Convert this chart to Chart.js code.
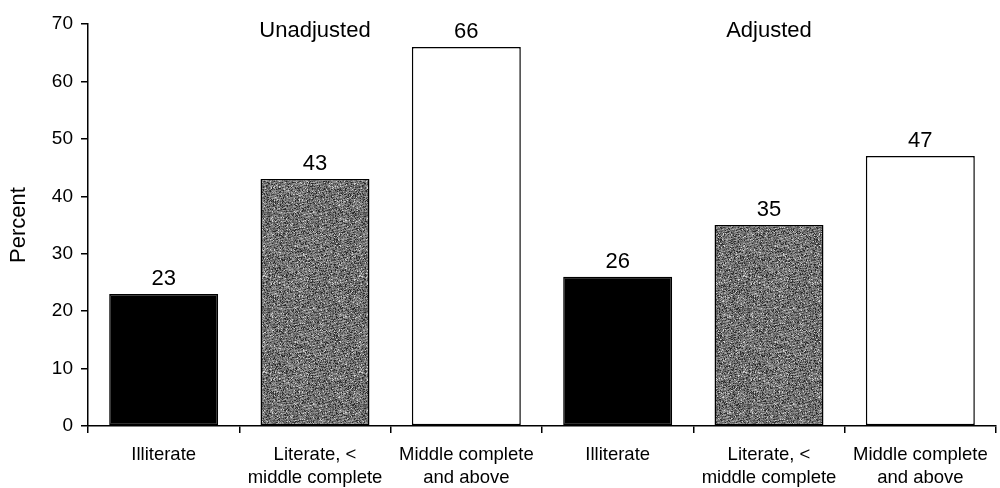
<!DOCTYPE html>
<html>
<head>
<meta charset="utf-8">
<script src="https://cdn.jsdelivr.net/npm/chart.js@4.4.0/dist/chart.umd.min.js"></script>
<style>
html,body{margin:0;padding:0;background:#fff;}
#wrap{width:1000px;height:488px;position:relative;}
</style>
</head>
<body>
<div id="wrap"><canvas id="c" width="1000" height="488"></canvas></div>
<script>
// ---- data ----
const categories = [
  ['Illiterate'],
  ['Literate, <', 'middle complete'],
  ['Middle complete', 'and above'],
  ['Illiterate'],
  ['Literate, <', 'middle complete'],
  ['Middle complete', 'and above']
];
const values = [23, 43, 66, 26, 35, 47];
const groupLabels = ['Unadjusted', 'Adjusted'];
const groupCenterIndex = [1, 4];
const educationKind = ['illiterate', 'literate', 'middle', 'illiterate', 'literate', 'middle'];
const yTicks = [0, 10, 20, 30, 40, 50, 60, 70];

// ---- gray speckle texture ----
function makeTexture() {
  const size = 96;
  const cv = document.createElement('canvas');
  cv.width = size; cv.height = size;
  const ctx = cv.getContext('2d');
  const img = ctx.createImageData(size, size);
  let s = 12345;
  function rnd() { s = (s * 1103515245 + 12345) & 0x7fffffff; return s / 0x7fffffff; }
  for (let y = 0; y < size; y++) {
    for (let x = 0; x < size; x++) {
      const streak = Math.sin((x * 0.55 + y * 2.2)) * 0.5 + 0.5;
      let v = 55 + rnd() * 90 + streak * 35;
      if (rnd() > 0.96) v = 210;
      if (rnd() < 0.10) v = 40;
      v = Math.max(0, Math.min(255, v));
      const i = (y * size + x) * 4;
      img.data[i] = img.data[i + 1] = img.data[i + 2] = v;
      img.data[i + 3] = 255;
    }
  }
  ctx.putImageData(img, 0, 0);
  return document.getElementById('c').getContext('2d').createPattern(cv, 'repeat');
}
const grayPattern = makeTexture();
const fillFor = { illiterate: '#000000', literate: grayPattern, middle: '#ffffff' };

const FONT = "'Liberation Sans', Arial, Helvetica, sans-serif";

const labelPlugin = {
  id: 'labels',
  afterDatasetsDraw(chart) {
    const ctx = chart.ctx;
    const meta = chart.getDatasetMeta(0);
    ctx.save();
    ctx.fillStyle = '#000';
    ctx.textAlign = 'center';
    ctx.textBaseline = 'alphabetic';
    ctx.font = '22px ' + FONT;
    meta.data.forEach((bar, i) => {
      ctx.fillText(String(values[i]), bar.x, bar.y - 9);
    });
    const xs = chart.scales.x;
    groupLabels.forEach((g, k) => {
      ctx.fillText(g, xs.getPixelForValue(groupCenterIndex[k]), 37);
    });
    ctx.restore();
  }
};

new Chart(document.getElementById('c'), {
  type: 'bar',
  data: {
    labels: categories,
    datasets: [{
      data: values,
      backgroundColor: educationKind.map(k => fillFor[k]),
      borderColor: '#000',
      borderWidth: 1.5,
      borderSkipped: false,
      barPercentage: 0.72,
      categoryPercentage: 1.0
    }]
  },
  options: {
    responsive: false,
    animation: false,
    devicePixelRatio: 1,
    layout: { padding: { top: 24, right: 4, bottom: 0, left: 0 } },
    plugins: { legend: { display: false }, tooltip: { enabled: false } },
    scales: {
      x: {
        grid: { display: true, drawOnChartArea: false, drawTicks: true, tickLength: 7, color: '#000', lineWidth: 1.5, offset: true },
        border: { display: true, color: '#000', width: 1.5 },
        ticks: { color: '#000', font: { family: FONT, size: 18.5, lineHeight: 1.25 }, padding: 10, maxRotation: 0, autoSkip: false },
        afterFit(scale) { scale.height = 62; }
      },
      y: {
        min: 0, max: 70,
        afterBuildTicks(scale) { scale.ticks = yTicks.map(v => ({ value: v })); },
        grid: { display: true, drawOnChartArea: false, drawTicks: true, tickLength: 7, color: '#000', lineWidth: 1.5 },
        border: { display: true, color: '#000', width: 1.5 },
        ticks: { color: '#000', font: { family: FONT, size: 19 }, padding: 8 },
        title: { display: true, text: 'Percent', color: '#000', font: { family: FONT, size: 22 }, padding: { top: 6, bottom: 0 } },
        afterFit(scale) { scale.width = 88; }
      }
    }
  },
  plugins: [labelPlugin]
});
</script>
</body>
</html>
